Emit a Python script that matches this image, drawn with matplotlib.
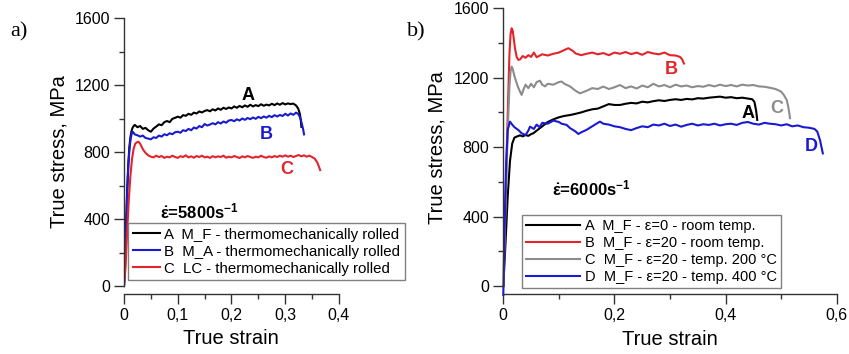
import matplotlib
matplotlib.use('Agg')
import matplotlib.pyplot as plt
from matplotlib.ticker import MultipleLocator, FuncFormatter

plt.rcParams['font.family'] = ['Liberation Sans', 'DejaVu Sans']
plt.rcParams['mathtext.fontset'] = 'custom'
plt.rcParams['mathtext.rm'] = 'Liberation Sans'
plt.rcParams['mathtext.bf'] = 'Liberation Sans:bold'

# ---- panel a) : strain rate 5800 1/s ----
a_rise_x = [0, 0.002, 0.004, 0.006, 0.008, 0.010, 0.012, 0.014, 0.016, 0.018]
a_grid = [0.020, 0.025, 0.030, 0.035, 0.040, 0.045, 0.050, 0.055, 0.060, 0.065,
          0.070, 0.075, 0.080, 0.085, 0.090, 0.095, 0.100, 0.105, 0.110, 0.115,
          0.120, 0.125, 0.130, 0.135, 0.140, 0.145, 0.150, 0.155, 0.160, 0.165,
          0.170, 0.175, 0.180, 0.185, 0.190, 0.195, 0.200, 0.205, 0.210, 0.215,
          0.220, 0.225, 0.230, 0.235, 0.240, 0.245, 0.250, 0.255, 0.260, 0.265,
          0.270, 0.275, 0.280, 0.285, 0.290, 0.295, 0.300, 0.305, 0.310, 0.315,
          0.320]

a_A_x = a_rise_x + a_grid + [0.324, 0.327, 0.329, 0.330]
a_A_y = ([0, 150, 380, 580, 730, 830, 890, 925, 945, 955] +
         [962, 948, 955, 938, 944, 930, 921, 940, 952, 965,
          960, 978, 985, 978, 998, 1004, 1011, 1005, 1020, 1016,
          1028, 1022, 1035, 1030, 1042, 1036, 1045, 1050, 1043, 1055,
          1048, 1060, 1052, 1064, 1057, 1066, 1060, 1072, 1064, 1075,
          1067, 1078, 1070, 1082, 1072, 1080, 1074, 1085, 1076, 1083,
          1078, 1088, 1080, 1090, 1082, 1092, 1084, 1090, 1086, 1089,
          1078] +
         [1060, 1030, 990, 950])

a_B_x = a_rise_x + a_grid + [0.324, 0.327, 0.330, 0.333, 0.335]
a_B_y = ([0, 140, 360, 560, 710, 810, 870, 905, 921, 915] +
         [905, 900, 892, 898, 884, 880, 876, 888, 884, 898,
          892, 906, 900, 912, 906, 918, 921, 915, 930, 925,
          938, 930, 946, 940, 955, 948, 967, 958, 964, 972,
          965, 978, 970, 982, 975, 988, 991, 984, 995, 988,
          1000, 992, 1003, 996, 1006, 998, 1010, 1002, 1012, 1005,
          1016, 1008, 1020, 1012, 1021, 1015, 1028, 1018, 1030, 1022,
          1035] +
         [1028, 1010, 980, 940, 905])

a_C_x = ([0, 0.003, 0.006, 0.009, 0.012, 0.015, 0.018, 0.021, 0.024, 0.027,
          0.030, 0.033, 0.036, 0.040, 0.045, 0.050, 0.055] +
         [0.060, 0.065, 0.070, 0.075, 0.080, 0.085, 0.090, 0.095, 0.100, 0.105,
          0.110, 0.115, 0.120, 0.125, 0.130, 0.135, 0.140, 0.145, 0.150, 0.155,
          0.160, 0.165, 0.170, 0.175, 0.180, 0.185, 0.190, 0.195, 0.200, 0.205,
          0.210, 0.215, 0.220, 0.225, 0.230, 0.235, 0.240, 0.245, 0.250, 0.255,
          0.260, 0.265, 0.270, 0.275, 0.280, 0.285, 0.290, 0.295, 0.300, 0.305,
          0.310, 0.315, 0.320, 0.325, 0.330, 0.335, 0.340, 0.345, 0.350, 0.355,
          0.360, 0.365])
a_C_y = ([0, 120, 330, 520, 660, 760, 820, 850, 858, 861,
          850, 830, 812, 795, 780, 772, 768] +
         [778, 770, 776, 765, 772, 768, 778, 770, 765, 775,
          770, 780, 768, 774, 766, 776, 770, 778, 768, 772,
          765, 775, 768, 774, 770, 778, 766, 772, 768, 776,
          770, 764, 774, 768, 776, 770, 765, 772, 768, 778,
          770, 766, 774, 768, 776, 770, 778, 772, 780, 772,
          778, 770, 776, 782, 774, 780, 772, 778, 770, 760,
          735, 692])

a_labels = ['A  M_F - thermomechanically rolled',
            'B  M_A - thermomechanically rolled',
            'C  LC - thermomechanically rolled']

# ---- panel b) : strain rate 6000 1/s ----
b_A_x = [0, 0.004, 0.008, 0.012, 0.016, 0.020, 0.025, 0.030, 0.035, 0.040,
         0.045, 0.050, 0.054, 0.060, 0.070, 0.080, 0.090, 0.100, 0.110, 0.120,
         0.130, 0.140, 0.150, 0.160, 0.170, 0.180, 0.190, 0.200, 0.210, 0.220,
         0.230, 0.240, 0.250, 0.260, 0.270, 0.280, 0.290, 0.300, 0.310, 0.320,
         0.330, 0.340, 0.350, 0.360, 0.370, 0.380, 0.390, 0.400, 0.410, 0.420,
         0.430, 0.440, 0.448, 0.452, 0.455, 0.457]
b_A_y = [0, 250, 520, 720, 820, 855, 862, 868, 862, 870,
         865, 875, 880, 895, 920, 945, 960, 972, 980, 985,
         992, 1000, 1010, 1018, 1022, 1035, 1048, 1043, 1043, 1050,
         1055, 1052, 1062, 1058, 1065, 1070, 1066, 1072, 1076, 1072,
         1078, 1075, 1082, 1080, 1085, 1088, 1091, 1085, 1088, 1082,
         1085, 1080, 1076, 1060, 1010, 957]

b_B_x = [0, 0.004, 0.008, 0.011, 0.013, 0.015, 0.017, 0.019, 0.021, 0.024,
         0.027, 0.030, 0.035, 0.040, 0.045, 0.050, 0.055, 0.060, 0.070, 0.080,
         0.090, 0.100, 0.110, 0.117, 0.125, 0.130, 0.140, 0.150, 0.160, 0.170,
         0.180, 0.190, 0.200, 0.210, 0.220, 0.230, 0.240, 0.250, 0.260, 0.270,
         0.280, 0.290, 0.300, 0.310, 0.318, 0.322, 0.325]
b_B_y = [0, 500, 1000, 1330, 1450, 1485, 1470, 1420, 1370, 1320,
         1303, 1305, 1325, 1315, 1330, 1320, 1345, 1318, 1335, 1328,
         1338, 1345, 1360, 1370, 1355, 1340, 1330, 1338, 1345, 1335,
         1342, 1330, 1345, 1338, 1348, 1336, 1345, 1332, 1348, 1340,
         1335, 1345, 1330, 1328, 1320, 1305, 1282]

b_C_x = [0, 0.004, 0.008, 0.011, 0.013, 0.015, 0.017, 0.020, 0.023, 0.026,
         0.030, 0.033, 0.036, 0.040, 0.045, 0.050, 0.055, 0.060, 0.066, 0.070,
         0.075, 0.080, 0.090, 0.100, 0.105, 0.110, 0.120, 0.130, 0.138, 0.150,
         0.160, 0.170, 0.180, 0.190, 0.200, 0.210, 0.220, 0.230, 0.240, 0.250,
         0.260, 0.270, 0.280, 0.290, 0.300, 0.310, 0.320, 0.330, 0.340, 0.350,
         0.360, 0.370, 0.380, 0.390, 0.400, 0.410, 0.420, 0.430, 0.440, 0.450,
         0.460, 0.470, 0.480, 0.490, 0.500, 0.505, 0.510, 0.513, 0.516]
b_C_y = [0, 450, 900, 1150, 1235, 1264, 1250, 1210, 1180, 1150,
         1120, 1101, 1130, 1160, 1140, 1165, 1145, 1175, 1183, 1160,
         1150, 1165, 1160, 1175, 1178, 1165, 1150, 1125, 1110, 1125,
         1140, 1135, 1149, 1135, 1145, 1158, 1140, 1150, 1138, 1155,
         1145, 1165, 1150, 1158, 1145, 1160, 1150, 1155, 1145, 1152,
         1148, 1158, 1150, 1160, 1152, 1158, 1150, 1160, 1155, 1158,
         1150, 1148, 1142, 1135, 1120, 1100, 1072, 1030, 967]

b_D_x = [0, 0.002, 0.005, 0.008, 0.012, 0.016, 0.020, 0.027, 0.033, 0.040,
         0.045, 0.048, 0.055, 0.060, 0.065, 0.070, 0.080, 0.090, 0.100, 0.105,
         0.114, 0.120, 0.130, 0.135, 0.140, 0.150, 0.160, 0.170, 0.174, 0.180,
         0.190, 0.200, 0.210, 0.220, 0.230, 0.240, 0.250, 0.260, 0.270, 0.280,
         0.290, 0.300, 0.310, 0.320, 0.330, 0.340, 0.350, 0.360, 0.370, 0.380,
         0.390, 0.400, 0.410, 0.420, 0.430, 0.440, 0.450, 0.460, 0.470, 0.480,
         0.490, 0.500, 0.510, 0.520, 0.530, 0.540, 0.550, 0.560, 0.565, 0.570,
         0.575]
b_D_y = [-52, 300, 700, 900, 947, 930, 915, 899, 880, 870,
         895, 918, 905, 930, 915, 940, 935, 953, 945, 935,
         928, 910, 890, 876, 885, 900, 920, 940, 947, 935,
         930, 920, 915, 905, 898, 910, 920, 915, 930, 925,
         935, 922, 930, 918, 928, 935, 925, 932, 928, 935,
         925, 932, 935, 928, 940, 945, 935, 930, 940, 935,
         932, 925, 932, 920, 925, 915, 912, 905, 890, 840,
         764]

b_labels = ['A  M_F - ε=0 - room temp.',
            'B  M_F - ε=20 - room temp.',
            'C  M_F - ε=20 - temp. 200 °C',
            'D  M_F - ε=20 - temp. 400 °C']

c_black = '#000000'
c_red = '#e3242b'
c_blue = '#1a1ad2'
c_gray = '#8c8c8c'

comma = FuncFormatter(lambda v, p: ('%g' % round(v, 3)).replace('.', ','))


def style_axes(ax, xmax, xmajor, xminor):
    ax.set_xlim(0, xmax)
    ax.set_ylim(-60, 1600)
    for s in ('top', 'right'):
        ax.spines[s].set_visible(False)
    ax.spines['left'].set_bounds(0, 1600)
    ax.spines['bottom'].set_position(('data', -47))
    for s in ('left', 'bottom'):
        ax.spines[s].set_color('#333333')
        ax.spines[s].set_linewidth(1.0)
    ax.xaxis.set_major_locator(MultipleLocator(xmajor))
    ax.xaxis.set_minor_locator(MultipleLocator(xminor))
    ax.yaxis.set_major_locator(MultipleLocator(400))
    ax.yaxis.set_minor_locator(MultipleLocator(200))
    ax.xaxis.set_major_formatter(comma)
    ax.tick_params(which='major', length=7, width=1, color='#333333',
                   labelsize=11.5, pad=3)
    ax.tick_params(which='minor', length=3.6, width=1, color='#333333')
    ax.set_xlabel('True strain', fontsize=14.5)
    ax.set_ylabel('True stress, MPa', fontsize=14.5)


fig = plt.figure(figsize=(8.49, 3.54), dpi=100)
ax1 = fig.add_axes([0.14605, 0.16370, 0.25324, 0.78545])
ax2 = fig.add_axes([0.59282, 0.16268, 0.39270, 0.81387])

# Panel a
lw = 1.5
h1 = ax1.plot(a_A_x, a_A_y, color=c_black, lw=lw)[0]
h2 = ax1.plot(a_B_x, a_B_y, color=c_blue, lw=lw)[0]
h3 = ax1.plot(a_C_x, a_C_y, color=c_red, lw=lw)[0]
style_axes(ax1, 0.4, 0.1, 0.05)
ax1.xaxis.set_label_coords(0.498, -0.1185)
ax1.yaxis.set_label_coords(-0.256, 0.518)
ax1.text(0.231, 1140, 'A', color=c_black, fontsize=13, fontweight='bold', ha='center', va='center')
ax1.text(0.264, 907, 'B', color=c_blue, fontsize=13, fontweight='bold', ha='center', va='center')
ax1.text(0.303, 697, 'C', color=c_red, fontsize=13, fontweight='bold', ha='center', va='center')
ax1.text(0.067, 448, r'$\mathbf{\dot{\varepsilon}}$=5800s$\mathbf{^{-1}}$', fontsize=12,
         fontweight='bold', ha='left', va='center')
leg1 = ax1.legend([h1, h2, h3], a_labels, loc='lower left',
                  bbox_to_anchor=(0.1508, 0.209), bbox_transform=fig.transFigure,
                  borderaxespad=0, fontsize=10.8, handlelength=1.8, handletextpad=0.3,
                  labelspacing=0.2, borderpad=0.3, fancybox=False, framealpha=1,
                  edgecolor='#808080')
leg1.get_frame().set_linewidth(1.0)

# Panel b
g1 = ax2.plot(b_A_x, b_A_y, color=c_black, lw=lw)[0]
g2 = ax2.plot(b_B_x, b_B_y, color=c_red, lw=lw)[0]
g3 = ax2.plot(b_C_x, b_C_y, color=c_gray, lw=lw)[0]
g4 = ax2.plot(b_D_x, b_D_y, color=c_blue, lw=lw, clip_on=False)[0]
style_axes(ax2, 0.6, 0.2, 0.1)
ax2.xaxis.set_label_coords(0.5, -0.1166)
ax2.yaxis.set_label_coords(-0.169, 0.515)
ax2.text(0.303, 1245, 'B', color=c_red, fontsize=13, fontweight='bold', ha='center', va='center')
ax2.text(0.493, 1024, 'C', color=c_gray, fontsize=13, fontweight='bold', ha='center', va='center')
ax2.text(0.44, 995, 'A', color=c_black, fontsize=13, fontweight='bold', ha='center', va='center')
ax2.text(0.555, 803, 'D', color=c_blue, fontsize=13, fontweight='bold', ha='center', va='center')
ax2.text(0.087, 563, r'$\mathbf{\dot{\varepsilon}}$=6000s$\mathbf{^{-1}}$', fontsize=12,
         fontweight='bold', ha='left', va='center')
leg2 = ax2.legend([g1, g2, g3, g4], b_labels, loc='lower left',
                  bbox_to_anchor=(0.6148, 0.1864), bbox_transform=fig.transFigure,
                  borderaxespad=0, fontsize=10.5, handlelength=3.7, handletextpad=0.3,
                  labelspacing=0.2, borderpad=0.3, fancybox=False, framealpha=1,
                  edgecolor='#808080')
leg2.get_frame().set_linewidth(1.0)

# panel letters
fig.text(19 / 849, 1 - 32 / 354, 'a)', family='Liberation Serif', fontsize=16,
         ha='center', va='center')
fig.text(416 / 849, 1 - 32 / 354, 'b)', family='Liberation Serif', fontsize=16,
         ha='center', va='center')

fig.savefig('out.png', dpi=100)
